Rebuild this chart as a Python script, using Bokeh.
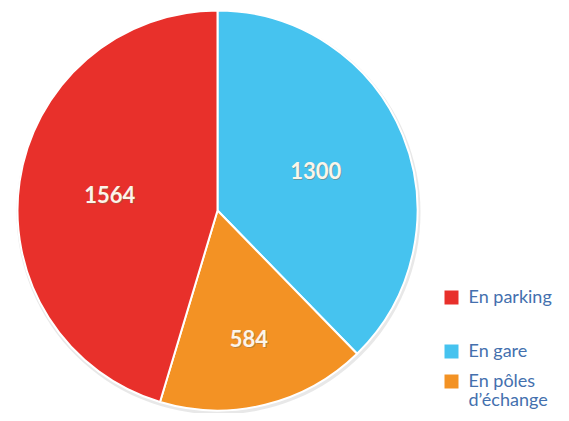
import math
from bokeh.plotting import figure
from bokeh.models import Range1d, ColumnDataSource
from bokeh.core.properties import value
from bokeh.embed import file_html
from bokeh.resources import INLINE

# ---- data ----
categories = ["En parking", "En gare", "En pôles d'échange"]
values = [1564, 1300, 584]
legend_labels = ["En parking", "En gare", "En pôles\nd’échange"]
colors = ["#E8302B", "#46C3EF", "#F39224"]
draw_order = [1, 2, 0]  # clockwise from 12 o'clock: gare, pôles, parking
label_radius_frac = [0.545, 0.53, 0.66]

W, H = 561, 413
p = figure(width=W, height=H, output_backend="svg", toolbar_location=None,
           x_range=Range1d(0, W), y_range=Range1d(0, H),
           min_border=0, outline_line_color=None)
p.axis.visible = False
p.grid.visible = False
p.background_fill_color = "white"
p.border_fill_color = "white"

def Y(img_y):
    return H - img_y

cx, cy, R = 217, Y(210), 200
total = float(sum(values))

# subtle shadow ring
p.circle(x=[cx + 1], y=[cy - 2], radius=R + 2, fill_color="#d8d8d8",
         fill_alpha=0.6, line_color=None)

starts, ends, cols, lx, ly, txt = [], [], [], [], [], []
cum = 0.0
for i in draw_order:
    frac = values[i] / total
    a0 = math.pi / 2 - 2 * math.pi * cum
    a1 = math.pi / 2 - 2 * math.pi * (cum + frac)
    starts.append(a0)
    ends.append(a1)
    cols.append(colors[i])
    mid = (a0 + a1) / 2
    r = R * label_radius_frac[i]
    lx.append(cx + r * math.cos(mid))
    ly.append(cy + r * math.sin(mid))
    txt.append(str(values[i]))
    cum += frac

src = ColumnDataSource(dict(start=starts, end=ends, color=cols))
p.wedge(x=cx, y=cy, radius=R, start_angle="start", end_angle="end",
        direction="clock", fill_color="color", line_color="white",
        line_width=2, source=src)

# labels with slight shadow
p.text(x=[v + 1 for v in lx], y=[v - 1 for v in ly], text=txt,
       text_align="center", text_baseline="middle", text_color="#7a6a50",
       text_alpha=0.45, text_font=value("Lato"), text_font_size="22px",
       text_font_style="bold")
p.text(x=lx, y=ly, text=txt, text_align="center", text_baseline="middle",
       text_color="#fbf5ea", text_font=value("Lato"),
       text_font_size="22px", text_font_style="bold")

# legend
leg_top = [Y(284), Y(338), Y(368)]
leg_sq = [Y(297), Y(351), Y(381)]
p.rect(x=[451] * 3, y=leg_sq, width=14, height=14, fill_color=colors,
       line_color=None)
p.text(x=[468] * 3, y=leg_top, text=legend_labels, text_align="left",
       text_baseline="top", text_color="#4470AE",
       text_font=value("Lato"), text_font_size="18px",
       text_line_height=0.9)

html = file_html(p, INLINE)
open("out.html", "w").write(html)
